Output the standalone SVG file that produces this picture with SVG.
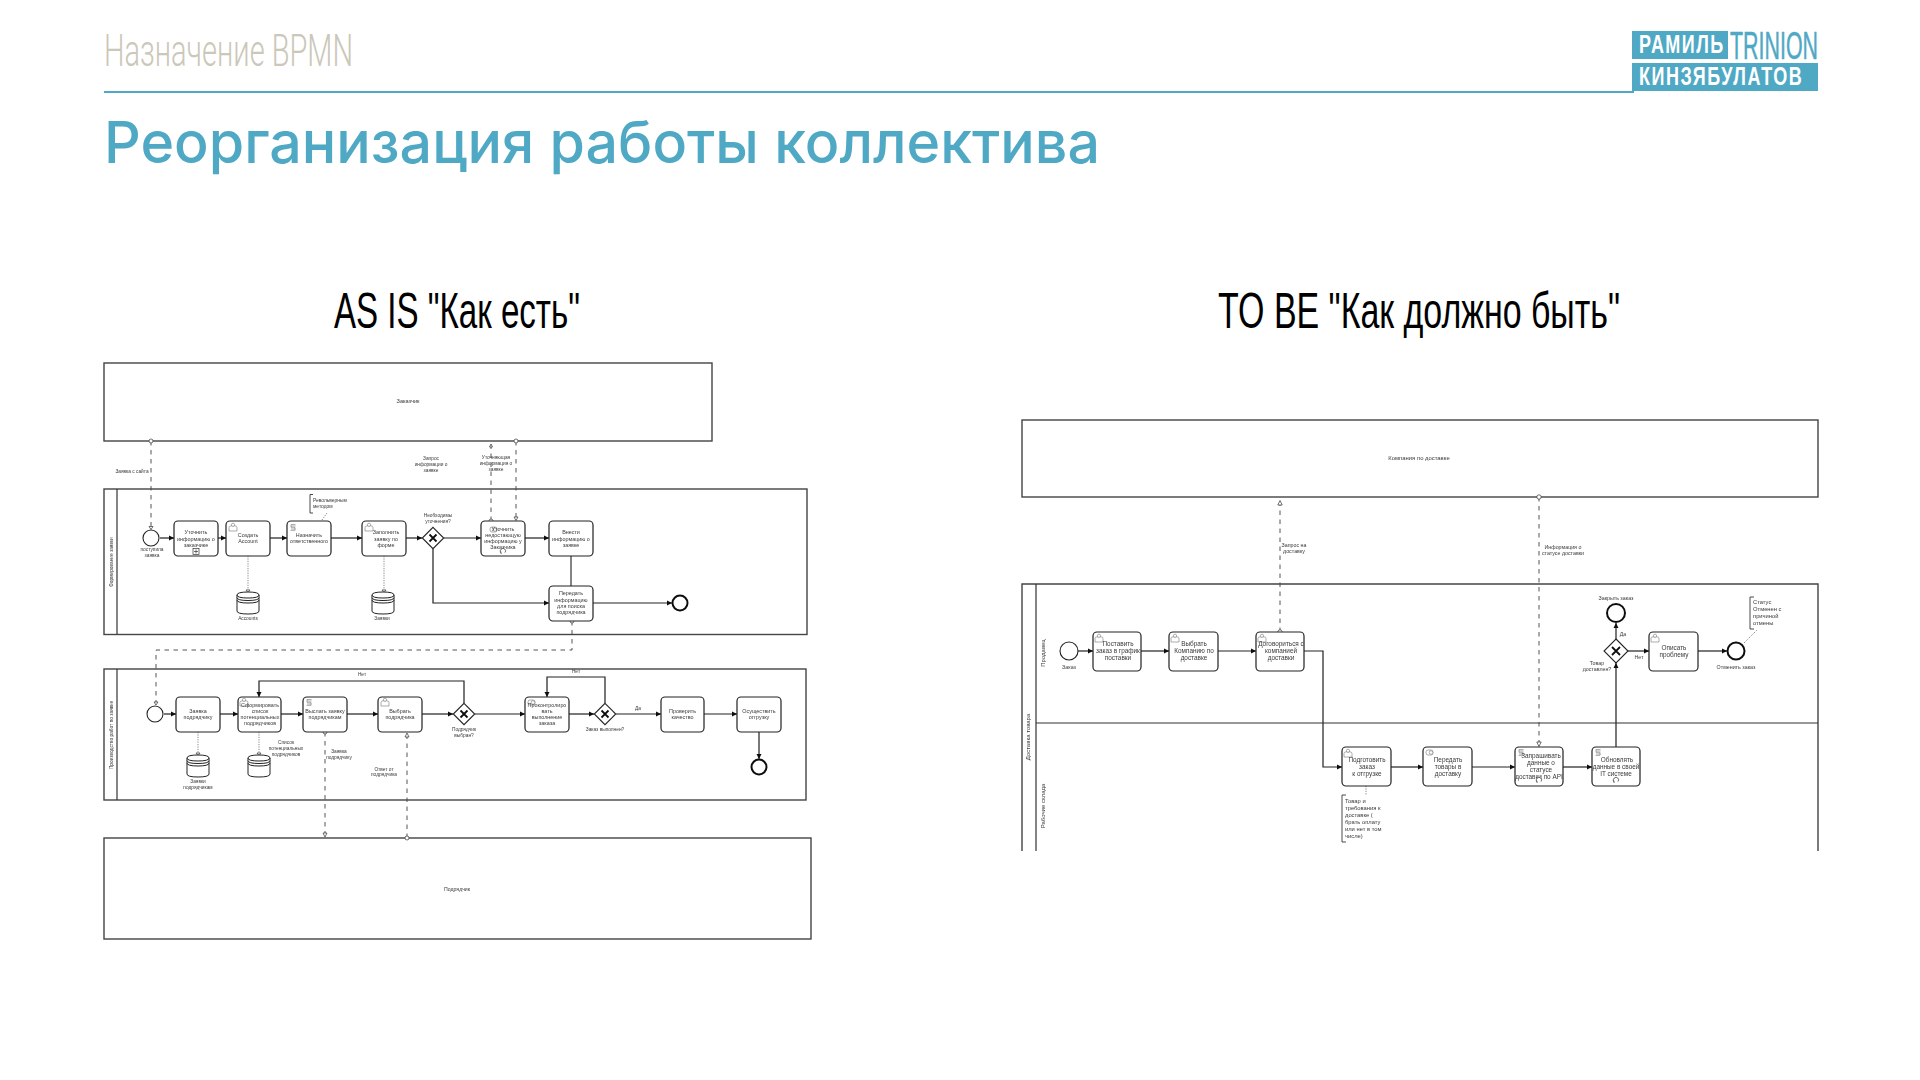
<svg xmlns="http://www.w3.org/2000/svg" width="1920" height="1080" viewBox="0 0 1920 1080">
<style>
text{font-family:"Liberation Sans",Arial,sans-serif;fill:#3a3a3a}
.pool,.task,.lane{fill:none;stroke:#333;stroke-width:1.2}
.pool{stroke:#444;stroke-width:1.4}
.task{fill:#fff;stroke:#222}
.lb{font-size:5.4px;text-anchor:middle}
.rb{font-size:6.4px;text-anchor:middle}
.ls{font-size:4.8px;text-anchor:middle}
.la{font-size:4.9px}
.ra{font-size:5.8px}
.rs{font-size:5.3px;text-anchor:middle}
.seq{fill:none;stroke:#222;stroke-width:1.2;marker-end:url(#seq)}
.plain{fill:none;stroke:#333;stroke-width:1.2}
.msg{fill:none;stroke:#444;stroke-width:.9;stroke-dasharray:4.5 4.5}
.dot{fill:none;stroke:#555;stroke-width:.7;stroke-dasharray:1.2 1.2}
.ev{fill:#fff;stroke:#222;stroke-width:1.1}
.end{fill:#fff;stroke:#111;stroke-width:2}
.gw{fill:#fff;stroke:#222;stroke-width:1.1}
.x{fill:none;stroke:#111;stroke-width:1.8}
.ic{fill:#fff;stroke:#777;stroke-width:.6}
.sm{fill:#fff;stroke:#333;stroke-width:.7}
.ds{fill:#fff;stroke:#222;stroke-width:1}
.br{fill:none;stroke:#333;stroke-width:.9}
</style>
<defs>
<filter id="soft" filterUnits="userSpaceOnUse" x="90" y="350" width="1740" height="610"><feGaussianBlur stdDeviation="0.55"/></filter>
<marker id="seq" markerUnits="userSpaceOnUse" markerWidth="6" markerHeight="6" refX="5" refY="3" orient="auto"><path d="M0,.5L5,3L0,5.5Z" fill="#111"/></marker>
<g id="user"><path class="ic" d="M0,8V4.5Q0,3 2,2.8H6Q8,3 8,4.5V8Z"/><circle class="ic" cx="4" cy="1.8" r="1.6"/></g>
<g id="svc"><path class="ic" d="M5.5,.5H1V3.4H5V6.4H.5" fill="none"/><path class="ic" d="M1,2H5.5M1,5H5.5" fill="none"/></g>
<g id="env"><rect class="ic" x="0" y="1" width="7" height="5" rx="2"/><circle class="ic" cx="5" cy="3.5" r="1.8"/></g>
<g id="loop"><path class="sm" d="M-2,1.6A2.6,2.6 0 1 1 2,1.6"/><path class="sm" d="M-2,1.6L-3.2,.8M-2,1.6L-1.8,3"/></g>
<g id="store"><path class="ds" d="M0,3V19Q0,22 11,22T22,19V3Q22,0 11,0T0,3Z"/><path class="ds" d="M0,3Q0,6 11,6T22,3M0,5.5Q0,8.5 11,8.5T22,5.5M0,8Q0,11 11,11T22,8" fill="none"/></g>
</defs>
<g id="header">
<text x="104" y="66" font-size="45" font-weight="300" textLength="249" lengthAdjust="spacingAndGlyphs" style="font-family:Roboto,'Liberation Sans',sans-serif;fill:#cbc7b9">Назначение BPMN</text>
<line x1="104" y1="92" x2="1634" y2="92" stroke="#4fa9c4" stroke-width="1.8"/>
<text x="104" y="163" font-size="58" font-weight="500" textLength="996" lengthAdjust="spacingAndGlyphs" style="font-family:Inter,'Liberation Sans',sans-serif;fill:#4fa9c4">Реорганизация работы коллектива</text>
</g>
<g id="logo">
<rect x="1632" y="31" width="96" height="28" fill="#4fa9c4"/>
<rect x="1632" y="63" width="186" height="28" fill="#4fa9c4"/>
<text transform="translate(1639 53) scale(.72 1)" font-size="25" font-weight="700" textLength="117" lengthAdjust="spacing" style="fill:#fff">РАМИЛЬ</text>
<text transform="translate(1639 85) scale(.72 1)" font-size="25" font-weight="700" textLength="226" lengthAdjust="spacing" style="fill:#fff">КИНЗЯБУЛАТОВ</text>
<text x="1730" y="59" font-size="39" textLength="88" lengthAdjust="spacingAndGlyphs" style="fill:#4fa9c4;stroke:#4fa9c4;stroke-width:.5">TRINION</text>
</g>
<text id="as-is-title" x="334" y="328" font-size="50" textLength="246" lengthAdjust="spacingAndGlyphs" style="fill:#000">AS IS "Как есть"</text>
<text id="to-be-title" x="1218" y="328" font-size="50" textLength="402" lengthAdjust="spacingAndGlyphs" style="fill:#000">TO BE "Как должно быть"</text>

<g id="as-is" filter="url(#soft)">
<g id="pools-left">
<g id="pool-customer"><rect class="pool" x="104" y="363" width="608" height="78"/><text class="ls" x="408" y="403" style="font-size:5.6px">Заказчик</text></g>
<g id="pool-form"><rect class="pool" x="104" y="489" width="703" height="145.500"/><line class="lane" x1="117" y1="489" x2="117" y2="634"/><text class="ls" transform="translate(113 562) rotate(-90)">Формирование заявки</text></g>
<g id="pool-prod"><rect class="pool" x="104" y="669" width="702" height="131"/><line class="lane" x1="117" y1="669" x2="117" y2="800"/><text class="ls" transform="translate(113 735) rotate(-90)">Производство работ по заявке</text></g>
<g id="pool-contractor"><rect class="pool" x="104" y="838" width="707" height="101"/><text class="ls" x="457" y="891" style="font-size:5.2px">Подрядчик</text></g>
</g>
<g id="connectors-left">
<path class="seq" d="M160,538H174"/><path class="seq" d="M218,538H226"/><path class="seq" d="M270,538H287"/><path class="seq" d="M331,538H362"/><path class="seq" d="M406,538H422"/><path class="seq" d="M444,538H481"/><path class="seq" d="M525,538H549"/>
<path class="plain" d="M571,556V586"/>
<path class="seq" d="M433,549V603H549"/><path class="seq" d="M593,603H672"/>
<path class="msg" d="M151,441V527"/><path class="msg" d="M491,521V445"/><path class="msg" d="M516,441V517"/>
<path class="msg" d="M572,621V650H156V703"/>
<path class="dot" d="M248,556V592"/><path class="dot" d="M384,556V592"/><path class="dot" d="M322,520L327,513"/>
<path class="seq" d="M164,714H176"/><path class="seq" d="M220,714H238"/><path class="seq" d="M281,714H303"/><path class="seq" d="M347,714H378"/><path class="seq" d="M422,714H453"/><path class="seq" d="M475,714H525"/><path class="seq" d="M569,714H594"/><path class="seq" d="M616,714H661"/><path class="seq" d="M704,714H737"/>
<path class="seq" d="M464,703V681H259V697"/><path class="seq" d="M605,703V677H547V697"/><path class="seq" d="M759,732V759"/>
<path class="dot" d="M198,732V755"/><path class="dot" d="M259,732V755"/>
<path class="msg" d="M325,732V834"/><path class="msg" d="M407,838V736"/>
<g fill="#fff" stroke="#333" stroke-width=".7">
<circle cx="151" cy="441" r="2"/><path d="M149,526.500h4l-2,3z"/><path d="M489.500,447l1.500-3l1.500,3z"/><circle cx="491" cy="521" r="2"/><circle cx="516" cy="441" r="2"/><path d="M514,517h4l-2,3.500z"/><circle cx="572" cy="621" r="2"/><path d="M154,702h4l-2,3z"/>
<path d="M246,590h4l-2,2.500z"/><path d="M382,590h4l-2,2.500z"/><path d="M196,753h4l-2,2.500z"/><path d="M257,753h4l-2,2.500z"/>
<circle cx="325" cy="732" r="2"/><path d="M323,833h4l-2,4z"/><circle cx="407" cy="838" r="2"/><path d="M405,737l2-4l2,4z"/>
</g>
</g>
<g id="labels-left">
<text class="ls" x="132" y="473">Заявка с сайта</text>
<text class="ls" x="431"><tspan x="431" y="460">Запрос</tspan><tspan x="431" y="466">информации о</tspan><tspan x="431" y="472">заявке</tspan></text>
<text class="ls"><tspan x="496" y="459">Уточняющая</tspan><tspan x="496" y="465">информация о</tspan><tspan x="496" y="470.500">заявке</tspan></text>
<text class="ls"><tspan x="438" y="517">Необходимы</tspan><tspan x="438" y="523">уточнения?</tspan></text>
<text class="ls"><tspan x="152" y="551">поступила</tspan><tspan x="152" y="557">заявка</tspan></text>
<text class="ls" x="248" y="620">Accounts</text><text class="ls" x="382" y="620">Заявки</text>
<path class="br" d="M313,494.500H310V513H313"/><text class="la"><tspan x="313" y="502">Револьверным</tspan><tspan x="313" y="508">методом</tspan></text>
<text class="ls" x="362" y="676">Нет</text><text class="ls" x="576" y="673">Нет</text><text class="ls" x="638" y="710">Да</text>
<text class="ls"><tspan x="464" y="731">Подрядчик</tspan><tspan x="464" y="737">выбран?</tspan></text>
<text class="ls" x="605" y="731">Заказ выполнен?</text>
<text class="ls"><tspan x="198" y="783">Заявки</tspan><tspan x="198" y="789">подрядчикам</tspan></text>
<text class="ls"><tspan x="286" y="744">Список</tspan><tspan x="286" y="750">потенциальных</tspan><tspan x="286" y="756">подрядчиков</tspan></text>
<text class="ls"><tspan x="339" y="753">Заявка</tspan><tspan x="339" y="759">подрядчику</tspan></text>
<text class="ls"><tspan x="384" y="771">Ответ от</tspan><tspan x="384" y="776">подрядчика</tspan></text>
</g>
<g id="start-1"><circle class="ev" cx="151" cy="538" r="8"/></g>
<g id="task-1"><rect class="task" x="174" y="521" width="44" height="35" rx="4"/><text class="lb"><tspan x="196" y="534">Уточнить</tspan><tspan x="196" y="540.500">информацию о</tspan><tspan x="196" y="547">заказчике</tspan></text><rect class="sm" x="193" y="548.500" width="6" height="6"/><path class="sm" d="M196,549.500v4M194,551.500h4"/></g>
<g id="task-2"><rect class="task" x="226" y="521" width="44" height="35" rx="4"/><use href="#user" x="229" y="523"/><text class="lb"><tspan x="248" y="537">Создать</tspan><tspan x="248" y="543">Account</tspan></text></g>
<g id="task-3"><rect class="task" x="287" y="521" width="44" height="35" rx="4"/><use href="#svc" x="290" y="524"/><text class="lb"><tspan x="309" y="537">Назначить</tspan><tspan x="309" y="543">ответственного</tspan></text></g>
<g id="task-4"><rect class="task" x="362" y="521" width="44" height="35" rx="4"/><use href="#user" x="365" y="523"/><text class="lb"><tspan x="386" y="534">Заполнить</tspan><tspan x="386" y="540.500">заявку по</tspan><tspan x="386" y="547">форме</tspan></text></g>
<g id="gateway-1"><path class="gw" d="M433,527.300L443.700,538L433,548.700L422.300,538Z"/><path class="x" d="M429.500,534.500L436.500,541.500M436.500,534.500L429.500,541.500"/></g>
<g id="task-5"><rect class="task" x="481" y="521" width="44" height="35" rx="4"/><use href="#env" x="490" y="526"/><text class="lb"><tspan x="503" y="531">Уточнить</tspan><tspan x="503" y="537">недостающую</tspan><tspan x="503" y="543">информацию у</tspan><tspan x="503" y="549">Заказчика</tspan></text><use href="#loop" x="503" y="551"/></g>
<g id="task-6"><rect class="task" x="549" y="521" width="44" height="35" rx="4"/><text class="lb"><tspan x="571" y="534">Внести</tspan><tspan x="571" y="540.500">информацию о</tspan><tspan x="571" y="547">заявке</tspan></text></g>
<g id="task-7"><rect class="task" x="549" y="586" width="44" height="35" rx="4"/><text class="lb"><tspan x="571" y="595">Передать</tspan><tspan x="571" y="602">информацию</tspan><tspan x="571" y="608">для поиска</tspan><tspan x="571" y="614">подрядчика</tspan></text></g>
<circle class="end" id="end-1" cx="680" cy="603" r="7.500"/>
<use id="store-accounts" href="#store" x="237" y="592"/>
<use id="store-orders" href="#store" x="372" y="592"/>
<g id="start-2"><circle class="ev" cx="155" cy="714" r="8"/></g>
<g id="task-8"><rect class="task" x="176" y="697" width="44" height="35" rx="4"/><text class="lb"><tspan x="198" y="713">Заявка</tspan><tspan x="198" y="719">подрядчику</tspan></text></g>
<g id="task-9"><rect class="task" x="238" y="697" width="43" height="35" rx="4"/><use href="#user" x="240" y="698"/><text class="lb"><tspan x="260" y="707">Сформировать</tspan><tspan x="260" y="713">список</tspan><tspan x="260" y="719">потенциальных</tspan><tspan x="260" y="725">подрядчиков</tspan></text></g>
<g id="task-10"><rect class="task" x="303" y="697" width="44" height="35" rx="4"/><use href="#svc" x="306" y="699"/><text class="lb"><tspan x="325" y="713">Выслать заявку</tspan><tspan x="325" y="719">подрядчикам</tspan></text></g>
<g id="task-11"><rect class="task" x="378" y="697" width="44" height="35" rx="4"/><use href="#user" x="381" y="698"/><text class="lb"><tspan x="400" y="713">Выбрать</tspan><tspan x="400" y="719">подрядчика</tspan></text></g>
<g id="gateway-2"><path class="gw" d="M464,703.300L474.700,714L464,724.700L453.300,714Z"/><path class="x" d="M460.500,710.500L467.500,717.500M467.500,710.500L460.500,717.500"/></g>
<g id="task-12"><rect class="task" x="525" y="697" width="44" height="35" rx="4"/><use href="#env" x="528" y="699"/><text class="lb"><tspan x="547" y="707">Проконтролиро</tspan><tspan x="547" y="713">вать</tspan><tspan x="547" y="719">выполнение</tspan><tspan x="547" y="725">заказа</tspan></text></g>
<g id="gateway-3"><path class="gw" d="M605,703.300L615.700,714L605,724.700L594.300,714Z"/><path class="x" d="M601.500,710.500L608.500,717.500M608.500,710.500L601.500,717.500"/></g>
<g id="task-13"><rect class="task" x="661" y="697" width="43" height="35" rx="4"/><text class="lb"><tspan x="682.500" y="713">Проверить</tspan><tspan x="682.500" y="719">качество</tspan></text></g>
<g id="task-14"><rect class="task" x="737" y="697" width="44" height="35" rx="4"/><text class="lb"><tspan x="759" y="713">Осуществить</tspan><tspan x="759" y="719">отгрузку</tspan></text></g>
<circle class="end" id="end-2" cx="759" cy="767" r="7.500"/>
<use id="store-requests" href="#store" x="187" y="755"/>
<use id="store-list" href="#store" x="248" y="755"/>
</g>

<g id="to-be" filter="url(#soft)">
<g id="pools-right">
<g id="pool-delivery"><rect class="pool" x="1022" y="420" width="796" height="77"/><text class="rs" x="1419" y="460" style="font-size:5.9px">Компания по доставке</text></g>
<g id="pool-goods"><path class="pool" d="M1022,851V584H1818V851"/><path class="lane" d="M1036,584V851M1036,723H1818"/>
<text class="rs" transform="translate(1030 737) rotate(-90)" style="font-size:6px">Доставка товара</text>
<text class="rs" transform="translate(1045 653) rotate(-90)" style="font-size:6px">Продавец</text>
<text class="rs" transform="translate(1045 806) rotate(-90)" style="font-size:6px">Рабочие склада</text></g>
</g>
<g id="connectors-right">
<path class="seq" d="M1078,651H1093"/><path class="seq" d="M1141,651H1169"/><path class="seq" d="M1218,651H1256"/>
<path class="seq" d="M1304,651H1323V767H1342"/><path class="seq" d="M1391,767H1423"/><path class="seq" d="M1472,767H1515"/><path class="seq" d="M1563,767H1592"/>
<path class="seq" d="M1616,747V663"/><path class="seq" d="M1616,639V623"/><path class="seq" d="M1628,651H1649"/><path class="seq" d="M1698,651H1727"/>
<path class="msg" d="M1280,632V504"/><path class="msg" d="M1539,497V742"/>
<path class="dot" d="M1366,786V795"/><path class="dot" d="M1744,643L1757,630"/>
<g fill="#fff" stroke="#333" stroke-width=".7">
<circle cx="1280" cy="632" r="2.200"/><path d="M1277.800,505l2.200-4.500l2.200,4.500z"/><circle cx="1539" cy="497" r="2.200"/><path d="M1536.800,742h4.400l-2.200,4.500z"/>
</g>
</g>
<g id="labels-right">
<text class="rs" x="1069" y="669">Заказ</text>
<text class="rs"><tspan x="1294" y="547">Запрос на</tspan><tspan x="1294" y="553">доставку</tspan></text>
<text class="rs"><tspan x="1563" y="549">Информация о</tspan><tspan x="1563" y="555">статусе доставки</tspan></text>
<text class="rs" x="1616" y="600">Закрыть заказ</text><text class="rs" x="1623" y="636">Да</text><text class="rs" x="1639" y="659">Нет</text>
<text class="rs"><tspan x="1597" y="665">Товар</tspan><tspan x="1597" y="671">доставлен?</tspan></text>
<text class="rs" x="1736" y="669">Отменить заказ</text>
<path class="br" d="M1754,597H1750V629H1754"/><text class="ra"><tspan x="1753" y="604">Статус</tspan><tspan x="1753" y="611">Отменен с</tspan><tspan x="1753" y="618">причиной</tspan><tspan x="1753" y="625">отмены</tspan></text>
<path class="br" d="M1346,795H1342V842H1346"/><text class="ra"><tspan x="1345" y="803">Товар и</tspan><tspan x="1345" y="810">требования к</tspan><tspan x="1345" y="817">доставке (</tspan><tspan x="1345" y="824">брать оплату</tspan><tspan x="1345" y="831">или нет в том</tspan><tspan x="1345" y="838">числе)</tspan></text>
</g>
<g id="start-r"><circle class="ev" cx="1069" cy="651" r="9"/></g>
<g id="r-task-1"><rect class="task" x="1093" y="632" width="48" height="39" rx="4"/><use href="#user" x="1095" y="634"/><text class="rb"><tspan x="1118" y="646">Поставить</tspan><tspan x="1118" y="653">заказ в график</tspan><tspan x="1118" y="660">поставки</tspan></text></g>
<g id="r-task-2"><rect class="task" x="1169" y="632" width="49" height="39" rx="4"/><use href="#user" x="1171" y="634"/><text class="rb"><tspan x="1194" y="646">Выбрать</tspan><tspan x="1194" y="653">Компанию по</tspan><tspan x="1194" y="660">доставке</tspan></text></g>
<g id="r-task-3"><rect class="task" x="1256" y="632" width="48" height="39" rx="4"/><use href="#user" x="1258" y="634"/><text class="rb"><tspan x="1281" y="646">Договориться с</tspan><tspan x="1281" y="653">компанией</tspan><tspan x="1281" y="660">доставки</tspan></text></g>
<g id="r-task-4"><rect class="task" x="1342" y="747" width="49" height="39" rx="4"/><use href="#user" x="1344" y="749"/><text class="rb"><tspan x="1367" y="762">Подготовить</tspan><tspan x="1367" y="769">заказ</tspan><tspan x="1367" y="776">к отгрузке</tspan></text></g>
<g id="r-task-5"><rect class="task" x="1423" y="747" width="49" height="39" rx="4"/><use href="#env" x="1426" y="749"/><text class="rb"><tspan x="1448" y="762">Передать</tspan><tspan x="1448" y="769">товары в</tspan><tspan x="1448" y="776">доставку</tspan></text></g>
<g id="r-task-6"><rect class="task" x="1515" y="747" width="48" height="39" rx="4"/><use href="#svc" x="1518" y="749"/><text class="rb"><tspan x="1541" y="758">Запрашивать</tspan><tspan x="1541" y="765">данные о</tspan><tspan x="1541" y="772">статусе</tspan><tspan x="1539" y="779">доставки по API</tspan></text><use href="#loop" x="1539" y="780"/></g>
<g id="r-task-7"><rect class="task" x="1592" y="747" width="48" height="39" rx="4"/><use href="#svc" x="1595" y="749"/><text class="rb"><tspan x="1617" y="762">Обновлять</tspan><tspan x="1616" y="769">данные в своей</tspan><tspan x="1616" y="776">IT системе</tspan></text><use href="#loop" x="1616" y="780"/></g>
<g id="r-gateway"><path class="gw" d="M1616,639L1628,651L1616,663L1604,651Z"/><path class="x" d="M1612,647L1620,655M1620,647L1612,655"/></g>
<circle class="end" id="r-end-close" cx="1616" cy="613" r="9"/>
<g id="r-task-8"><rect class="task" x="1649" y="632" width="49" height="39" rx="4"/><use href="#user" x="1651" y="634"/><text class="rb"><tspan x="1674" y="650">Описать</tspan><tspan x="1674" y="657">проблему</tspan></text></g>
<circle class="end" id="r-end-cancel" cx="1736" cy="651" r="8.500"/>
</g>
</svg>
